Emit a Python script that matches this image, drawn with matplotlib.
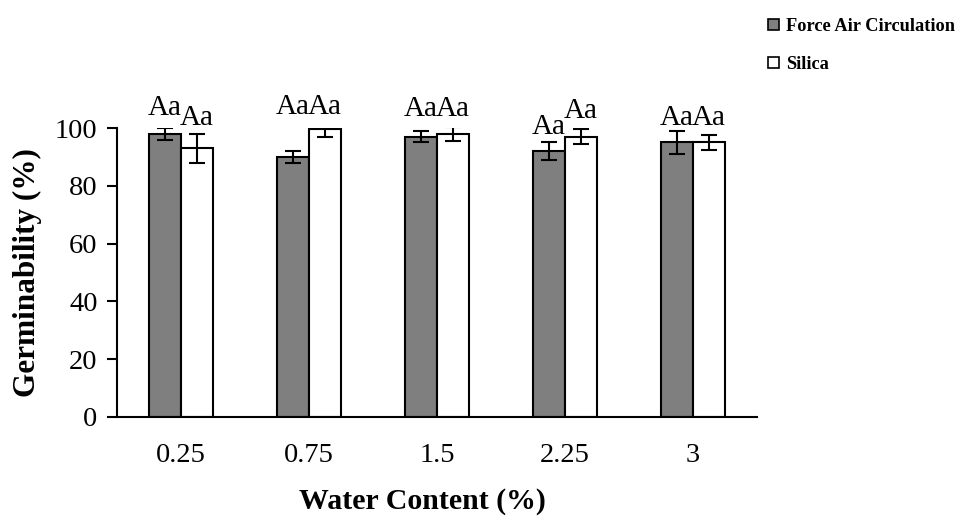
import numpy as np
import matplotlib.pyplot as plt
from matplotlib.patches import Patch

# Datos
categorias = ['0.25', '0.75', '1.5', '2.25', '3']
aire_forzado = [98, 90, 97, 92, 95]
aire_forzado_err = [2, 2, 2, 3, 4]
silica = [93, 99.5, 98, 97, 95]
silica_err = [5, 2.5, 2.5, 2.5, 2.5]
letras_aire = ['Aa', 'Aa', 'Aa', 'Aa', 'Aa']
letras_silica = ['Aa', 'Aa', 'Aa', 'Aa', 'Aa']
# altura de las letras (línea base)
altura_aire = [104.5, 105, 104, 98, 101]
altura_silica = [101, 105, 104, 103.5, 101]

plt.rcParams['font.family'] = ['Liberation Serif', 'DejaVu Serif']

fig = plt.figure(figsize=(9.58, 5.18), dpi=100)
ax = fig.add_axes([117/958, 101/518, 640/958, 289/518])

x = np.arange(len(categorias))
ancho = 0.25
err_kw = dict(ecolor='black', elinewidth=1.5, capsize=6, capthick=1.5)

ax.bar(x - ancho/2, aire_forzado, ancho, yerr=aire_forzado_err, color='#7f7f7f',
       edgecolor='black', linewidth=1.5, error_kw=err_kw, label='Force Air Circulation')
ax.bar(x + ancho/2, silica, ancho, yerr=silica_err, color='white',
       edgecolor='black', linewidth=1.5, error_kw=err_kw, label='Silica')

for i in range(len(categorias)):
    ax.text(x[i] - ancho/2, altura_aire[i], letras_aire[i], ha='center', va='baseline',
            fontsize=21, clip_on=False)
    ax.text(x[i] + ancho/2, altura_silica[i], letras_silica[i], ha='center', va='baseline',
            fontsize=21, clip_on=False)

ax.set_xlim(-0.5, len(categorias) - 0.5)
ax.set_ylim(0, 100)
ax.set_yticks(range(0, 101, 20))
ax.set_xticks(x)
ax.set_xticklabels(categorias)
ax.tick_params(axis='x', length=0, pad=19, labelsize=20.5)
ax.tick_params(axis='y', length=7, width=1.5, pad=7, labelsize=20.5)
for s in ['top', 'right']:
    ax.spines[s].set_visible(False)
for s in ['left', 'bottom']:
    ax.spines[s].set_linewidth(1.5)

ax.set_xlabel('Water Content (%)', fontsize=21.5, fontweight='bold')
ax.set_ylabel('Germinability (%)', fontsize=22.5, fontweight='bold')
ax.xaxis.set_label_coords((422 - 117) / 640, -0.245)
ax.yaxis.set_label_coords(-(117 - 42) / 640, 0.5)

handles = [Patch(facecolor='#7f7f7f', edgecolor='black', linewidth=1.2),
           Patch(facecolor='white', edgecolor='black', linewidth=1.2)]
fig.legend(handles, ['Force Air Circulation', 'Silica'], loc='upper left',
           bbox_to_anchor=(768/958, 1 - 18/518), frameon=False, borderpad=0,
           borderaxespad=0, handlelength=0.6, handleheight=0.6, handletextpad=0.4,
           labelspacing=1.15, prop={'size': 13.2, 'weight': 'bold'})

plt.savefig('out.png', dpi=100)
